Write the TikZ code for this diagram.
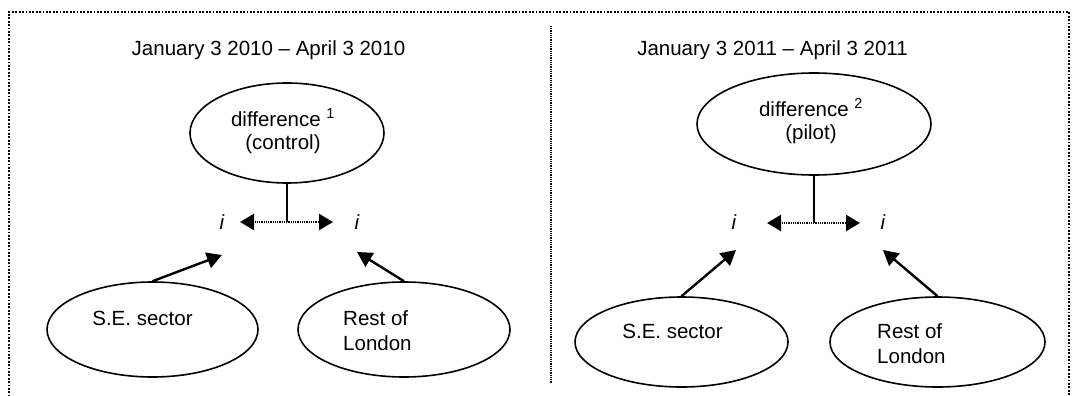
\documentclass[tikz,border=0pt]{standalone}
\usepackage{fontspec}
\setmainfont{Liberation Sans}
\usetikzlibrary{arrows.meta,shapes.geometric}
\begin{document}
\begin{tikzpicture}[x=1pt,y=-1pt,
  every node/.style={font=\fontsize{20.5}{23}\selectfont},
  oval/.style={draw, ellipse, line width=1.6pt, inner sep=0pt},
  frameline/.style={line width=2pt, dash pattern=on 1.8pt off 1.6pt},
  midline/.style={line width=1.8pt, dash pattern=on 1pt off 0.8pt},
  link/.style={line width=2.4pt, -{Triangle[length=15pt,width=16pt]}},
  dbl/.style={line width=2.4pt, dash pattern=on 1pt off 0.8pt,
    {Triangle[length=14pt,width=16pt]}-{Triangle[length=14pt,width=16pt]}},
  stem/.style={line width=1.6pt},
  lbl/.style={inner sep=0pt, align=center},
  lbll/.style={inner sep=0pt, align=left, anchor=north west,
    font=\fontsize{20.5}{25}\selectfont},
  ivar/.style={inner sep=0pt, font=\fontsize{20.5}{23}\selectfont\itshape},
]
\useasboundingbox (0,0) rectangle (1073,396);

% frame and divider
\coordinate (fbl) at (9,400);
\coordinate (ftl) at (9,12);
\coordinate (ftr) at (1069,12);
\coordinate (fbr) at (1069,400);
\draw[frameline] (fbl) -- (ftl) -- (ftr) -- (fbr);
\coordinate (mt) at (551,26);
\coordinate (mb) at (551,383);
\draw[midline] (mt) -- (mb);

% titles
\node[inner sep=0pt] (t1) at (268.5,50) {January 3 2010 – April 3 2010};
\node[inner sep=0pt] (t2) at (772.5,50) {January 3 2011 – April 3 2011};

% ---------- left panel ----------
\node[oval, minimum width=194pt, minimum height=100pt] (d1) at (287,133) {};
\node[lbl] (d1t) at (283,131) {difference \textsuperscript{1}\\(control)};

\node[ivar] (i1a) at (222,222) {i};
\node[ivar] (i1b) at (357,222) {i};
\coordinate (a1l) at (240,222);
\coordinate (a1r) at (333,222);
\coordinate (a1m) at (287,222);
\draw[dbl] (a1l) -- (a1r);
\draw[stem] (d1.south) -- (a1m);

\node[oval, minimum width=211pt, minimum height=95pt] (se1) at (152.5,329.5) {};
\node[inner sep=0pt, anchor=base] (se1t) at (142.5,325) {S.E. sector};
\node[oval, minimum width=212pt, minimum height=95pt] (rl1) at (404,329.5) {};
\node[lbll] (rl1t) at (343,310) {Rest of\\London};

\coordinate (p1) at (222,255);
\coordinate (p2) at (357,252);
\draw[link] (se1.north) -- (p1);
\draw[link] (rl1.north) -- (p2);

% ---------- right panel ----------
\node[oval, minimum width=234pt, minimum height=102pt] (d2) at (814,124) {};
\node[lbl] (d2t) at (811,121) {difference \textsuperscript{2}\\(pilot)};

\node[ivar] (i2a) at (734,222) {i};
\node[ivar] (i2b) at (883,222) {i};
\coordinate (a2l) at (767,223);
\coordinate (a2r) at (860,223);
\coordinate (a2m) at (814,223);
\draw[dbl] (a2l) -- (a2r);
\draw[stem] (d2.south) -- (a2m);

\node[oval, minimum width=213pt, minimum height=90pt] (se2) at (681.5,342) {};
\node[inner sep=0pt, anchor=base] (se2t) at (672.5,338) {S.E. sector};
\node[oval, minimum width=215pt, minimum height=90pt] (rl2) at (937.5,342) {};
\node[lbll] (rl2t) at (877,323) {Rest of\\London};

\coordinate (q1) at (736,250);
\coordinate (q2) at (883,250);
\draw[link] (se2.north) -- (q1);
\draw[link] (rl2.north) -- (q2);
\end{tikzpicture}
\end{document}
